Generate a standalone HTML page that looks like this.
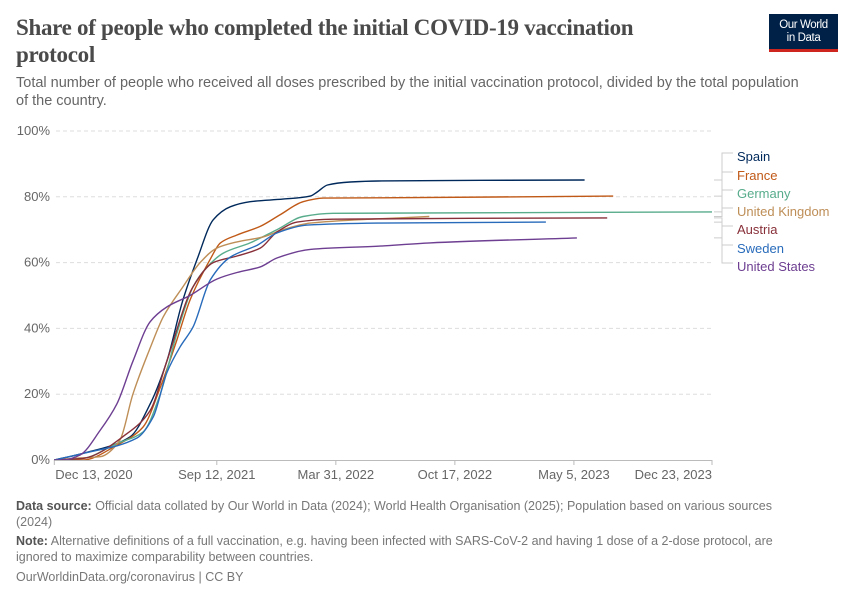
<!DOCTYPE html>
<html><head><meta charset="utf-8"><style>
body{margin:0;background:#fff;width:850px;height:600px;overflow:hidden;font-family:"Liberation Sans",sans-serif;position:relative}
.t{position:absolute;white-space:nowrap}
</style></head><body>
<div class="t" style="left:16px;top:14px;font-family:'Liberation Serif',serif;font-size:23px;font-weight:bold;color:#4a4a4a;line-height:27px;letter-spacing:-0.3px">Share of people who completed the initial COVID-19 vaccination<br>protocol</div>
<div class="t" style="left:16px;top:74px;font-size:14.5px;color:#666;line-height:18px">Total number of people who received all doses prescribed by the initial vaccination protocol, divided by the total population<br>of the country.</div>
<div style="position:absolute;left:769px;top:14px;width:69px;height:38px;background:#002147;border-bottom:3px solid #ce261e;box-sizing:border-box;color:#fff;font-size:11.5px;line-height:13px;text-align:center;padding-top:5px;letter-spacing:-0.4px">Our World<br>in Data</div>
<svg width="850" height="600" style="position:absolute;left:0;top:0">
<g id="grid"></g><g id="lines"></g><g id="legend"></g><g id="xaxis"></g>
</svg>
<div class="t" style="left:16px;top:498px;font-size:12.5px;color:#777;line-height:16px"><b style="color:#555">Data source:</b> Official data collated by Our World in Data (2024); World Health Organisation (2025); Population based on various sources<br>(2024)</div>
<div class="t" style="left:16px;top:533px;font-size:12.5px;color:#777;line-height:16px"><b style="color:#555">Note:</b> Alternative definitions of a full vaccination, e.g. having been infected with SARS-CoV-2 and having 1 dose of a 2-dose protocol, are<br>ignored to maximize comparability between countries.</div>
<div class="t" style="left:16px;top:570px;font-size:12.5px;color:#777">OurWorldinData.org/coronavirus | CC BY</div>
<script>
const yTicks=[0,20,40,60,80,100];
const xTickDays=[0,273,473,673,873,1105];
const xTickLabels=["Dec 13, 2020","Sep 12, 2021","Mar 31, 2022","Oct 17, 2022","May 5, 2023","Dec 23, 2023"];
const seriesNames=["Spain","France","Germany","United Kingdom","Austria","Sweden","United States"];
const seriesColors=["#00295b","#c05917","#58ac8c","#be8e57","#883039","#286bbb","#6d3e91"];
const spainDays=[0,48,127,161,189,216,240,267,296,329,384,430,442,459,497,544,891];
const spainVals=[0,2,7,17,30,48.6,61,73,77,78.5,79.3,80.2,81.5,83.6,84.5,84.8,85.1];
const franceDays=[0,48,105,149,178,206,228,262,279,307,346,379,418,452,544,939];
const franceVals=[0,0,4.5,10,22,36.5,48.6,61,66,68.4,71,74.5,78.5,79.6,79.7,80.2];
const germanyDays=[0,48,105,149,178,206,233,257,284,329,374,418,468,1105];
const germanyVals=[0,0.5,5,8.5,20,38.5,52.6,58.7,62.9,66,70,74,75,75.4];
const ukDays=[0,43,77,110,132,161,183,216,245,273,307,351,384,430,544,630];
const ukVals=[0,0.6,1,6,20,34,43.5,52.6,60,64.4,66.3,67.8,70,72,73.3,74];
const austriaDays=[0,48,122,161,189,233,267,307,346,374,408,468,929];
const austriaVals=[0,0.5,8,15,30,52.6,60,62,64.4,69.3,72.3,73.2,73.6];
const swedenDays=[0,48,139,166,189,211,233,262,296,341,374,425,544,826];
const swedenVals=[0,2,6.7,13,26.5,34.3,40.4,54.7,61.7,65.3,69,71.4,72,72.3];
const usDays=[0,15,43,77,105,132,161,189,228,273,307,346,374,430,544,631,878];
const usVals=[0,0,1.5,9,17,30,42,46.5,50,55,57,58.7,61.4,64,65,66,67.5];
const legendY=[157,176,194,212,230,249,267];

const allDays=[spainDays,franceDays,germanyDays,ukDays,austriaDays,swedenDays,usDays];
const allVals=[spainVals,franceVals,germanyVals,ukVals,austriaVals,swedenVals,usVals];
const X0=54.3,X1=712,Y0=460,Y1=131,DMAX=1105;
const xs=d=>X0+(X1-X0)*d/DMAX;
const ys=v=>Y0-(Y0-Y1)*v/100;
const NS="http://www.w3.org/2000/svg";
function mk(tag,parent,attrs){const e=document.createElementNS(NS,tag);for(const k in attrs)e.setAttribute(k,attrs[k]);parent.appendChild(e);return e;}
function monoPath(px,py){
  const n=px.length;const dx=[],m=[],t=[];
  for(let i=0;i<n-1;i++){dx[i]=px[i+1]-px[i];m[i]=(py[i+1]-py[i])/dx[i];}
  t[0]=m[0];t[n-1]=m[n-2];
  for(let i=1;i<n-1;i++){t[i]=(m[i-1]*m[i]<=0)?0:(3*(dx[i-1]+dx[i]))/((2*dx[i]+dx[i-1])/m[i-1]+(dx[i]+2*dx[i-1])/m[i]);}
  let d='M'+px[0].toFixed(1)+','+py[0].toFixed(1);
  for(let i=0;i<n-1;i++){const h=dx[i]/3;
    d+=' C'+(px[i]+h).toFixed(1)+','+(py[i]+t[i]*h).toFixed(1)+' '+(px[i+1]-h).toFixed(1)+','+(py[i+1]-t[i+1]*h).toFixed(1)+' '+px[i+1].toFixed(1)+','+py[i+1].toFixed(1);}
  return d;
}
const grid=document.getElementById('grid');
yTicks.forEach(v=>{
  if(v>0){const l=mk('line',grid,{x1:56,x2:712,y1:ys(v),y2:ys(v),stroke:'#ddd','stroke-dasharray':'4,3'});
  
  }
  const t=mk('text',grid,{x:50,y:ys(v)+4,'text-anchor':'end','font-size':13,fill:'#666','font-family':'Liberation Sans'});
  t.textContent=v+'%';
  
  
});
const xa=document.getElementById('xaxis');
const ax=mk('line',xa,{x1:55,x2:712,y1:460.5,y2:460.5,stroke:'#bbb'});


xTickDays.forEach((d,i)=>{
  const tk=mk('line',xa,{x1:xs(d),x2:xs(d),y1:460,y2:465,stroke:'#bbb'});
  
  
  const anchor=i==0?'start':(i==xTickDays.length-1?'end':'middle');
  const t=mk('text',xa,{x:i==0?xs(d)+1:xs(d),y:479,'text-anchor':anchor,'font-size':13,fill:'#666','font-family':'Liberation Sans'});
  t.textContent=xTickLabels[i];
  
  
});
const lg=document.getElementById('lines');
seriesNames.forEach((n,i)=>{
  const px=allDays[i].map(xs),py=allVals[i].map(ys);
  const p=mk('path',lg,{d:monoPath(px,py),fill:'none',stroke:seriesColors[i],'stroke-width':1.4,'stroke-linejoin':'round'});
  
  
});
const leg=document.getElementById('legend');
seriesNames.forEach((n,i)=>{
  const arr=allVals[i];const endY=ys(arr[arr.length-1]);const ly=legendY[i]-4;
  const c=mk('path',leg,{d:`M714 ${endY} H722 V${ly} H733`,fill:'none',stroke:'#ccc','stroke-width':1});
  
  
  const t=mk('text',leg,{x:737,y:legendY[i]+4,'font-size':13,fill:seriesColors[i],'font-family':'Liberation Sans'});
  t.textContent=n;
  
  
});
</script>
</body></html>
